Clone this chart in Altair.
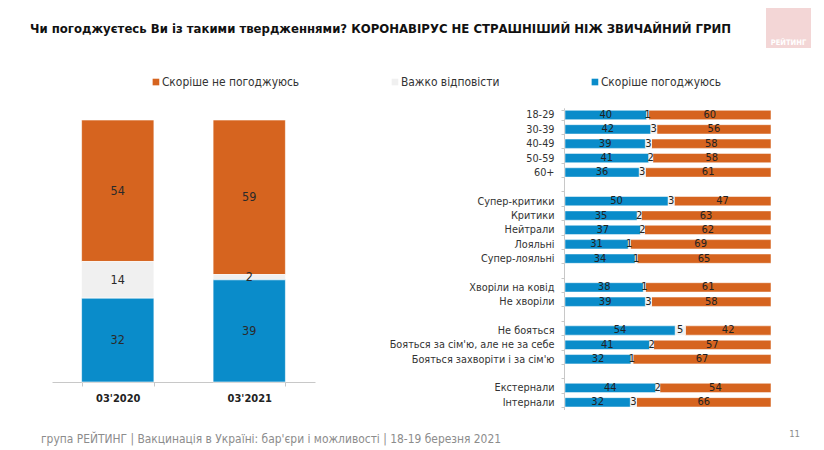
import altair as alt
import pandas as pd

# ---------------- data ----------------
title_text = "Чи погоджуєтесь Ви із такими твердженнями? КОРОНАВІРУС НЕ СТРАШНІШИЙ НІЖ ЗВИЧАЙНИЙ ГРИП"
footer_text = "група РЕЙТИНГ | Вакцинація в Україні: бар'єри і можливості | 18-19 березня 2021"
page_number = "11"
logo_text = "РЕЙТИНГ"

answers = ["Скоріше не погоджуюсь", "Важко відповісти", "Скоріше погоджуюсь"]
answer_colors = ["#d6641f", "#f0f0f0", "#0a8cca"]
stack_order = {"Скоріше погоджуюсь": 0, "Важко відповісти": 1, "Скоріше не погоджуюсь": 2}

periods = ["03'2020", "03'2021"]
left_disagree = [54, 59]
left_hard = [14, 2]
left_agree = [32, 39]

row_order = ["18-29", "30-39", "40-49", "50-59", "60+", " ",
             "Супер-критики", "Критики", "Нейтрали", "Лояльні", "Супер-лояльні", "  ",
             "Хворіли на ковід", "Не хворіли", "   ",
             "Не бояться", "Бояться за сім'ю, але не за себе", "Бояться захворіти і за сім'ю", "    ",
             "Екстернали", "Інтернали"]
groups = ["18-29", "30-39", "40-49", "50-59", "60+",
          "Супер-критики", "Критики", "Нейтрали", "Лояльні", "Супер-лояльні",
          "Хворіли на ковід", "Не хворіли",
          "Не бояться", "Бояться за сім'ю, але не за себе", "Бояться захворіти і за сім'ю",
          "Екстернали", "Інтернали"]
agree = [40, 42, 39, 41, 36, 50, 35, 37, 31, 34, 38, 39, 54, 41, 32, 44, 32]
hard = [1, 3, 3, 2, 3, 3, 2, 2, 1, 1, 1, 3, 5, 2, 1, 2, 3]
disagree = [60, 56, 58, 58, 61, 47, 63, 62, 69, 65, 61, 58, 42, 57, 67, 54, 66]

# ---------------- tables ----------------
left_rows = []
for i, p in enumerate(periods):
    for a, v in zip(answers, [left_disagree[i], left_hard[i], left_agree[i]]):
        left_rows.append({"period": p, "answer": a, "value": v, "ord": stack_order[a]})
left_df = pd.DataFrame(left_rows)

right_rows = []
for i, g in enumerate(groups):
    for a, v in zip(answers, [disagree[i], hard[i], agree[i]]):
        right_rows.append({"group": g, "answer": a, "value": v, "ord": stack_order[a]})
right_df = pd.DataFrame(right_rows)

FONT = "Liberation Sans Narrow, Arial Narrow, DejaVu Sans Condensed, Liberation Sans, sans-serif"
W, H = 808, 440

color = alt.Color("answer:N",
                  scale=alt.Scale(domain=answers, range=answer_colors),
                  legend=alt.Legend(title=None, orient="none", direction="horizontal",
                                    legendX=142, legendY=68, symbolType="square",
                                    symbolSize=44, symbolStrokeWidth=0,
                                    labelFont=FONT, labelFontSize=11.9, labelColor="#333333",
                                    labelOffset=0, columnPadding=89, labelLimit=300))

# ---------------- left chart ----------------
left_base = alt.Chart(left_df).transform_stack(
    stack="value", groupby=["period"], as_=["v0", "v1"],
    sort=[alt.SortField("ord", order="ascending")]
).transform_calculate(mid="(datum.v0 + datum.v1) / 2")

lx = alt.X("period:N", sort=periods,
           scale=alt.Scale(domain=periods, range=[44, 307], paddingInner=0.45, paddingOuter=0.225),
           axis=alt.Axis(title=None, orient="bottom", offset=-(H - 374), labelAngle=0,
                         labelFont=FONT, labelFontSize=11, labelFontWeight="bold",
                         labelColor="#222222", domainColor="#c8c8c8", tickColor="#c8c8c8",
                         tickSize=4, tickBand="extent", labelPadding=6))
ly_scale = alt.Scale(domain=[0, 100], range=[374, 112])

left_bars = left_base.mark_bar(stroke="white", strokeWidth=0.6).encode(
    x=lx,
    y=alt.Y("v0:Q", scale=ly_scale, axis=None),
    y2="v1:Q",
    color=color,
)
left_text = left_base.mark_text(font=FONT, fontSize=12.5, color="#2a2a2a").encode(
    x=lx,
    y=alt.Y("mid:Q", scale=ly_scale, axis=None),
    text="value:Q",
)
left = alt.layer(left_bars, left_text)

# ---------------- right chart ----------------
right_base = alt.Chart(right_df).transform_stack(
    stack="value", groupby=["group"], as_=["v0", "v1"], offset="normalize",
    sort=[alt.SortField("ord", order="ascending")]
).transform_calculate(mid="(datum.v0 + datum.v1) / 2")

rx_scale = alt.Scale(domain=[0, 1], range=[557, 763])
ry = alt.Y("group:N", sort=row_order,
           scale=alt.Scale(domain=row_order, range=[99.8, 401.5], paddingInner=0.35, paddingOuter=0.175),
           axis=alt.Axis(title=None, orient="left", offset=-556,
                         labelFont=FONT, labelFontSize=10.8, labelColor="#333333",
                         domainColor="#c8c8c8", tickColor="#c8c8c8", tickSize=3,
                         tickBand="extent", labelPadding=7, labelLimit=300))

right_bars = right_base.mark_bar(stroke="white", strokeWidth=0.5).encode(
    x=alt.X("v0:Q", scale=rx_scale, axis=None),
    x2="v1:Q",
    y=ry,
    color=color,
)
right_text = right_base.mark_text(font=FONT, fontSize=11, color="#222222").encode(
    x=alt.X("mid:Q", scale=rx_scale, axis=None),
    y=ry,
    text="value:Q",
)
right = alt.layer(right_bars, right_text)

# ---------------- decorations ----------------
title = alt.Chart(alt.Data(values=[{"t": title_text}])).mark_text(
    align="left", baseline="alphabetic", font=FONT, fontSize=13, fontWeight="bold", color="#111111"
).encode(x=alt.value(22), y=alt.value(24.5), text="t:N")

logo_box = alt.Chart(alt.Data(values=[{"t": logo_text}])).mark_rect(color="#f3d6d6").encode(
    x=alt.value(758), x2=alt.value(803), y=alt.value(0), y2=alt.value(40))
logo_label = alt.Chart(alt.Data(values=[{"t": logo_text}])).mark_text(
    align="center", baseline="alphabetic", font=FONT, fontSize=7.5, fontWeight="bold", color="white"
).encode(x=alt.value(780.5), y=alt.value(37), text="t:N")

footer = alt.Chart(alt.Data(values=[{"t": footer_text}])).mark_text(
    align="left", baseline="alphabetic", font=FONT, fontSize=11.9, color="#8c8c8c"
).encode(x=alt.value(33), y=alt.value(434.5), text="t:N")

pagenum = alt.Chart(alt.Data(values=[{"t": page_number}])).mark_text(
    align="right", baseline="alphabetic", font=FONT, fontSize=9.5, color="#8c8c8c"
).encode(x=alt.value(792), y=alt.value(428.5), text="t:N")

chart = alt.layer(left, right, title, logo_box, logo_label, footer, pagenum).resolve_scale(
    x="independent", y="independent"
).properties(
    width=W, height=H, autosize=alt.AutoSizeParams(type="none"), padding=0
).configure_view(stroke=None)

chart.save("out.html", embed_options={"renderer": "svg", "actions": False})
